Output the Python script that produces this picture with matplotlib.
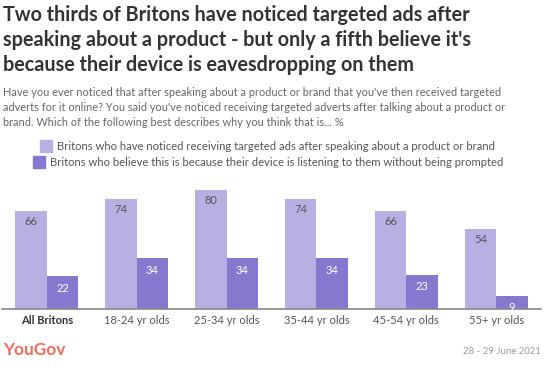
import numpy as np
import matplotlib
matplotlib.use('Agg')
import matplotlib.pyplot as plt
from matplotlib.patches import Rectangle

# Datos
grupos = ['All Britons', '18-24 yr olds', '25-34 yr olds', '35-44 yr olds',
          '45-54 yr olds', '55+ yr olds']
notado = [66, 74, 80, 74, 66, 54]
escucha = [22, 34, 34, 34, 23, 9]
serie_notado = 'Britons who have noticed receiving targeted ads after speaking about a product or brand'
serie_escucha = 'Britons who believe this is because their device is listening to them without being prompted'

titulo = ("Two thirds of Britons have noticed targeted ads after\n"
          "speaking about a product - but only a fifth believe it's\n"
          "because their device is eavesdropping on them")
subtitulo = ("Have you ever noticed that after speaking about a product or brand that you've then received targeted\n"
             "adverts for it online? You said you've noticed receiving targeted adverts after talking about a product or\n"
             "brand. Which of the following best describes why you think that is... %")

c_claro = '#b8afe3'
c_oscuro = '#8677cf'
fuente = 'Lato'

fig = plt.figure(figsize=(5.52, 3.71), dpi=100)
W, H = 552, 371

# Ejes: linea base en y=309 px
ax = fig.add_axes([2 / W, 1 - 309 / H, 539 / W, 134 / H])
x = np.arange(len(grupos))
ancho = 0.35
b1 = ax.bar(x - ancho / 2, notado, ancho, color=c_claro)
b2 = ax.bar(x + ancho / 2, escucha, ancho, color=c_oscuro)
ax.set_xlim(-0.5, 5.5)
ax.set_ylim(0, 90)

for r, v in zip(b1, notado):
    ax.annotate(str(v), (r.get_x() + r.get_width() / 2, v), xytext=(0, -8),
                textcoords='offset points', ha='center', va='center',
                fontsize=8, color='#555555', family=fuente)
for r, v in zip(b2, escucha):
    ax.annotate(str(v), (r.get_x() + r.get_width() / 2, v), xytext=(0, -8.5),
                textcoords='offset points', ha='center', va='center',
                fontsize=8, color='white', family=fuente, annotation_clip=False)

for s in ['top', 'right', 'left']:
    ax.spines[s].set_visible(False)
ax.spines['bottom'].set_color('#888888')
ax.spines['bottom'].set_linewidth(1.2)
ax.set_yticks([])
ax.set_xticks(x)
ax.set_xticklabels(grupos, family=fuente, fontsize=8, color='#555555')
ax.tick_params(axis='x', length=0, pad=4)
ax.get_xticklabels()[0].set_fontweight('bold')
ax.get_xticklabels()[0].set_color('#333333')

# Titulo y subtitulo
fig.text(3 / W, 1 - 5 / H, titulo, ha='left', va='top', fontsize=14.2,
         fontweight='bold', color='#333333', family=fuente, linespacing=1.3)
fig.text(3 / W, 1 - 87 / H, subtitulo, ha='left', va='top', fontsize=7.9,
         color='#666666', family=fuente, linespacing=1.45)

# Leyenda
for yy, xx, col, txt in [(146, 40, c_claro, serie_notado), (162, 33, c_oscuro, serie_escucha)]:
    fig.patches.append(Rectangle((xx / W, 1 - (yy + 6) / H), 12 / W, 12 / H,
                                 transform=fig.transFigure, color=col))
    fig.text((xx + 17) / W, 1 - yy / H, txt, ha='left', va='center',
             fontsize=8.1, color='#555555', family=fuente)

# Pie
fig.text(3 / W, 1 - 350 / H, 'YouGov', ha='left', va='center', fontsize=12.4,
         fontweight='bold', color='#f26b5b', family=fuente)
fig.text(541 / W, 1 - 351 / H, '28 - 29 June 2021', ha='right', va='center',
         fontsize=6.9, color='#999999', family=fuente)

fig.savefig('out.png', dpi=100)
